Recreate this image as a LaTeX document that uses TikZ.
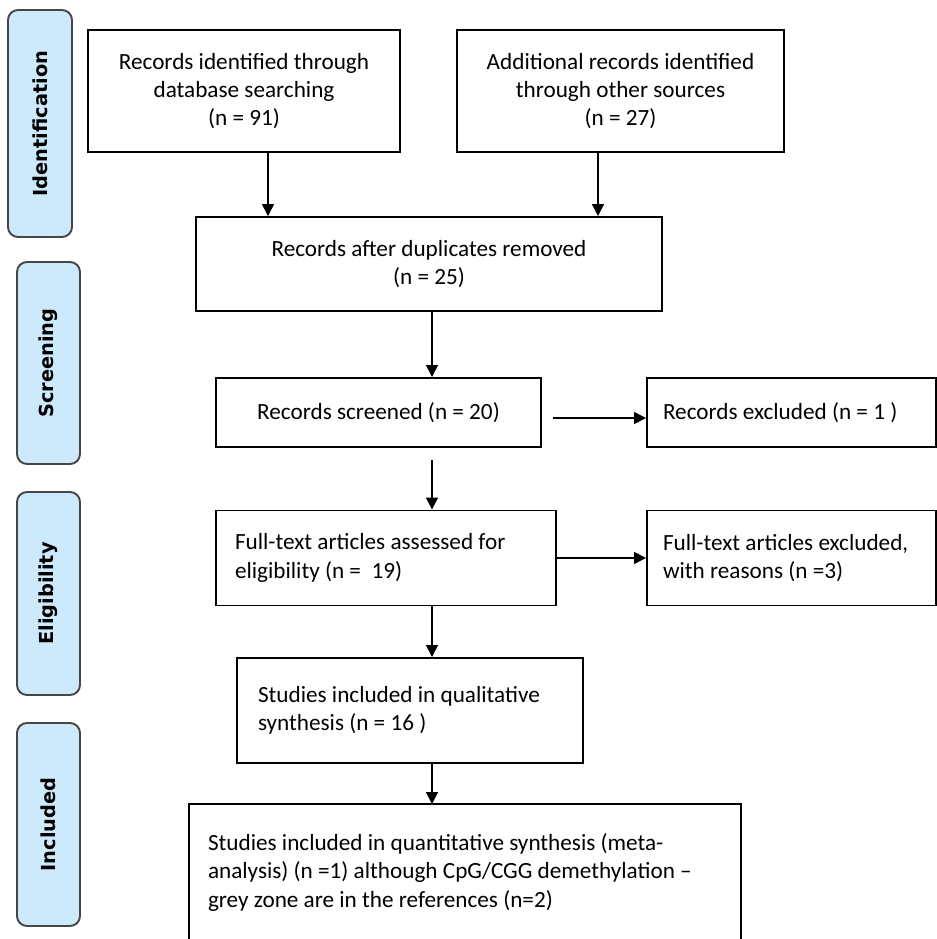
\documentclass[tikz,border=0pt]{standalone}
\usepackage{fontspec}
\setmainfont{Carlito}
\newfontfamily\stagefont{DejaVu Sans}
\usetikzlibrary{arrows.meta}
\definecolor{stagefill}{RGB}{205,233,252}
\definecolor{stageline}{RGB}{70,70,70}

\begin{document}
\begin{tikzpicture}[
  box/.style={draw, line width=1.1pt, inner sep=0pt, align=center,
    font=\fontsize{13.2}{16}\selectfont},
  leftbox/.style={box, align=flush left},
  stage/.style={draw=stageline, fill=stagefill, line width=1.1pt, rounded corners=0.2cm,
    inner sep=0pt, rotate=90, font=\stagefont\bfseries\fontsize{11}{12}\selectfont},
  arr/.style={-{Triangle[length=2.4mm,width=2.4mm]}, line width=0.85pt}
]
  \useasboundingbox (0,0) rectangle (18.74,18.78);

  \node[stage, minimum width=4.54cm, minimum height=1.28cm] (ident) at (0.80,16.31) {Identification};
  \node[stage, minimum width=4.04cm, minimum height=1.26cm] (screen) at (0.97,11.52) {Screening};
  \node[stage, minimum width=4.06cm, minimum height=1.26cm] (elig) at (0.97,6.91) {Eligibility};
  \node[stage, minimum width=4.06cm, minimum height=1.26cm] (incl) at (0.97,2.29) {Included};

  \node[box, minimum width=6.24cm, minimum height=2.44cm] (b1) at (4.88,16.96)
    {Records identified through\\database searching\\(n = 91)};
  \node[box, minimum width=6.54cm, minimum height=2.44cm] (b2) at (12.41,16.96)
    {Additional records identified\\through other sources\\(n = 27)};
  \node[box, minimum width=9.32cm, minimum height=1.88cm] (b3) at (8.58,13.50)
    {Records after duplicates removed\\(n = 25)};
  \node[box, minimum width=6.50cm, minimum height=1.38cm] (b4) at (7.57,10.53)
    {Records screened (n = 20)};
  \node[leftbox, text width=5.14cm, inner xsep=0.32cm, minimum height=1.38cm] (b5) at (15.83,10.53)
    {Records excluded (n = 1 )};
  \node[leftbox, text width=6.04cm, inner xsep=0.38cm, minimum height=1.90cm] (b6) at (7.72,7.62)
    {Full-text articles assessed for\\eligibility (n = \ 19)};
  \node[leftbox, text width=5.14cm, inner xsep=0.32cm, minimum height=1.90cm] (b7) at (15.83,7.62)
    {Full-text articles excluded,\\with reasons (n =3)};
  \node[leftbox, text width=6.08cm, inner xsep=0.42cm, minimum height=2.10cm] (b8) at (8.20,4.57)
    {Studies included in qualitative\\synthesis (n = 16 )\\[0.4cm]};
  \node[leftbox, draw=none, text width=10.28cm, inner xsep=0.36cm, minimum height=2.70cm] (b9) at (9.30,1.33)
    {Studies included in quantitative synthesis (meta-\\analysis) (n =1) although CpG/CGG demethylation --\\grey zone are in the references (n=2)};
  \draw[line width=1.1pt] (b9.south west) -- (b9.north west) -- (b9.north east) -- (b9.south east);

  \coordinate (c1) at (5.36,0);
  \coordinate (c2) at (11.96,0);
  \coordinate (c3) at (8.64,0);
  \coordinate (g1) at (8.64,9.58);
  \coordinate (g2) at (11.06,10.42);

  \draw[arr] (b1.south -| c1) -- (b3.north -| c1);
  \draw[arr] (b2.south -| c2) -- (b3.north -| c2);
  \draw[arr] (b3.south -| c3) -- (b4.north -| c3);
  \draw[arr] (g2) -- (g2 -| b5.west);
  \draw[arr] (g1) -- (g1 |- b6.north);
  \draw[arr] (b6) -- (b7);
  \draw[arr] (b6.south -| c3) -- (b8.north -| c3);
  \draw[arr] (b8.south -| c3) -- (b9.north -| c3);
\end{tikzpicture}
\end{document}
